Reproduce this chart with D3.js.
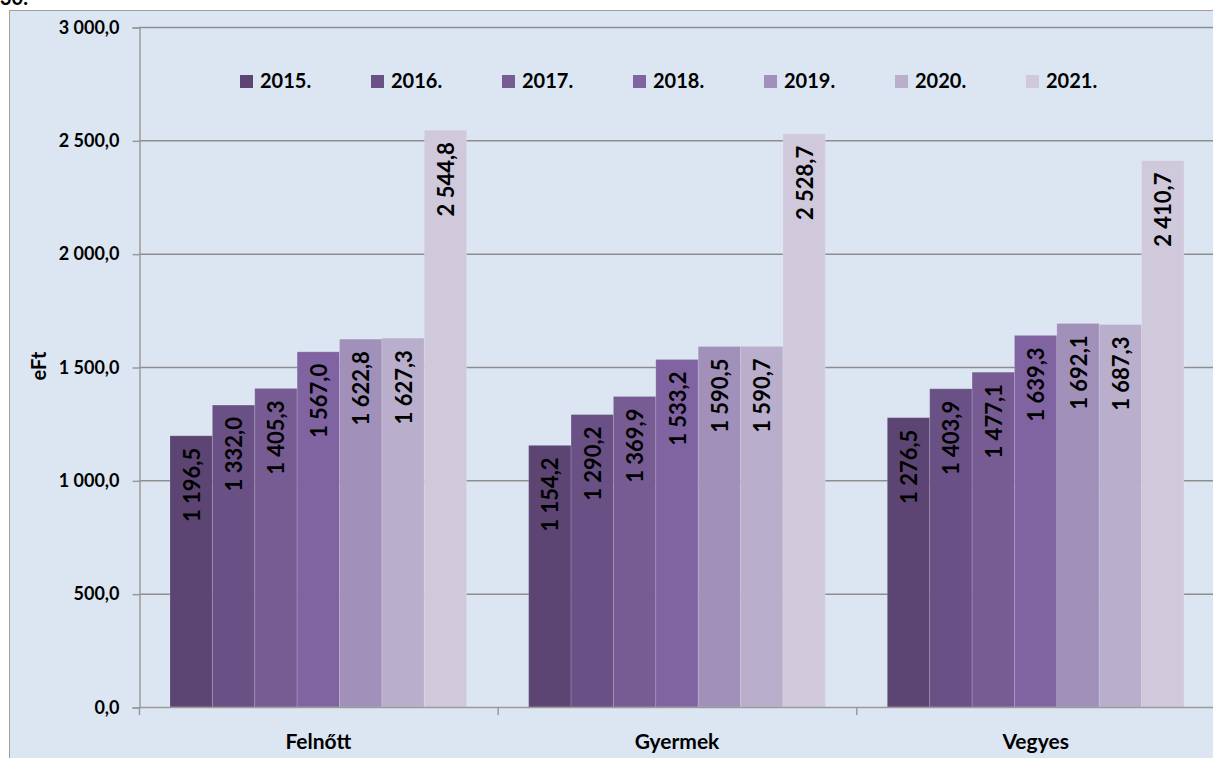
<!DOCTYPE html>
<html>
<head>
<meta charset="utf-8">
<script src="https://cdn.jsdelivr.net/npm/d3@7"></script>
<style>
  body { margin: 0; background: #fff; }
  text { font-family: Lato, "DejaVu Sans", sans-serif; font-weight: bold; fill: #000; }
</style>
</head>
<body>
<div id="chart"></div>
<script>
// categories and series
var categories = ["Felnőtt", "Gyermek", "Vegyes"];
var years = ["2015.", "2016.", "2017.", "2018.", "2019.", "2020.", "2021."];
var v2015 = [1196.5, 1154.2, 1276.5];
var v2016 = [1332.0, 1290.2, 1403.9];
var v2017 = [1405.3, 1369.9, 1477.1];
var v2018 = [1567.0, 1533.2, 1639.3];
var v2019 = [1622.8, 1590.5, 1692.1];
var v2020 = [1627.3, 1590.7, 1687.3];
var v2021 = [2544.8, 2528.7, 2410.7];
var yTicks = [0, 500, 1000, 1500, 2000, 2500, 3000];
var colors = ["#5c4572", "#6a5185", "#775c93", "#8064a2", "#a190b9", "#b9aecb", "#d0c9db"];

var series = [v2015, v2016, v2017, v2018, v2019, v2020, v2021];

var width = 1213, height = 758;
var plotLeft = 139, plotRight = 1215, plotTop = 27, plotBottom = 707;

var loc = d3.formatLocale({decimal: ",", thousands: " ", grouping: [3], currency: ["", ""]});
var fmt = loc.format(",.1f");

var svg = d3.select("#chart").append("svg")
  .attr("width", width)
  .attr("height", height);

// cut-off title fragment above the frame
svg.append("text").attr("x", 0).attr("y", 5).style("font-size", "20px").text("30.");

// chart frame
svg.append("rect")
  .attr("x", 9.5).attr("y", 10.5)
  .attr("width", 1220).attr("height", 760)
  .attr("fill", "#dce6f2")
  .attr("stroke", "#a0a0a0");

var y = d3.scaleLinear().domain([0, 3000]).range([plotBottom, plotTop]);
var x0 = d3.scaleBand().domain(categories).range([plotLeft, plotRight]);
var x1 = d3.scaleBand().domain(years).range([31, x0.bandwidth() - 31]);

// gridlines
svg.append("g").selectAll("line")
  .data(yTicks.filter(function(d) { return d > 0; }))
  .enter().append("line")
  .attr("x1", plotLeft).attr("x2", plotRight)
  .attr("y1", function(d) { return y(d) + 0.5; })
  .attr("y2", function(d) { return y(d) + 0.5; })
  .attr("stroke", "#8e8e8e").attr("stroke-width", 1.5);

// y axis
var yAxis = d3.axisLeft(y).tickValues(yTicks).tickSize(7).tickPadding(13).tickFormat(fmt);
var ga = svg.append("g").attr("transform", "translate(" + (plotLeft + 0.5) + ",0.5)").call(yAxis);
ga.select(".domain").attr("stroke", "#9a9a9a").attr("stroke-width", 1.5);
ga.selectAll(".tick line").attr("stroke", "#9a9a9a").attr("stroke-width", 1.5);
ga.selectAll(".tick text")
  .style("font-family", "Lato, sans-serif").style("font-weight", "bold")
  .style("font-size", "18px").attr("fill", "#000");

// bars
var groups = svg.append("g").selectAll("g")
  .data(categories)
  .enter().append("g")
  .attr("transform", function(d) { return "translate(" + x0(d) + ",0)"; });

groups.each(function(cat, ci) {
  var g = d3.select(this);
  years.forEach(function(yr, si) {
    var v = series[si][ci];
    g.append("rect")
      .attr("x", x1(yr))
      .attr("width", x1.bandwidth())
      .attr("y", y(v))
      .attr("height", y(0) - y(v))
      .attr("fill", colors[si])
      .attr("stroke", "rgba(255,255,255,0.15)")
      .attr("stroke-width", 1);
    var cx = x1(yr) + x1.bandwidth() / 2, ty = y(v) + 12;
    g.append("text")
      .attr("transform", "translate(" + cx + "," + ty + ") rotate(-90)")
      .attr("text-anchor", "end")
      .attr("dominant-baseline", "central")
      .style("font-size", "22px")
      .text(fmt(v));
  });
});

// x axis
svg.append("line")
  .attr("x1", plotLeft).attr("x2", plotRight)
  .attr("y1", plotBottom + 0.5).attr("y2", plotBottom + 0.5)
  .attr("stroke", "#9a9a9a").attr("stroke-width", 1.5);
svg.append("g").selectAll("line")
  .data(categories.concat(["end"]))
  .enter().append("line")
  .attr("x1", function(d, i) { return plotLeft + i * x0.bandwidth() + 0.5; })
  .attr("x2", function(d, i) { return plotLeft + i * x0.bandwidth() + 0.5; })
  .attr("y1", plotBottom).attr("y2", plotBottom + 8)
  .attr("stroke", "#9a9a9a").attr("stroke-width", 1.5);
svg.append("g").selectAll("text")
  .data(categories)
  .enter().append("text")
  .attr("x", function(d) { return x0(d) + x0.bandwidth() / 2; })
  .attr("y", 749)
  .attr("text-anchor", "middle")
  .style("font-size", "21px")
  .text(function(d) { return d; });

// y axis title
svg.append("text")
  .attr("transform", "translate(38,366) rotate(-90)")
  .attr("text-anchor", "middle")
  .attr("dominant-baseline", "central")
  .style("font-size", "20px")
  .text("eFt");

// legend
var legend = svg.append("g").selectAll("g")
  .data(years)
  .enter().append("g")
  .attr("transform", function(d, i) { return "translate(" + (240 + i * 131) + ",75)"; });
legend.append("rect")
  .attr("width", 13).attr("height", 13)
  .attr("fill", function(d, i) { return colors[i]; });
legend.append("text")
  .attr("x", 20).attr("y", 13)
  .style("font-size", "20px")
  .text(function(d) { return d; });
</script>
</body>
</html>
